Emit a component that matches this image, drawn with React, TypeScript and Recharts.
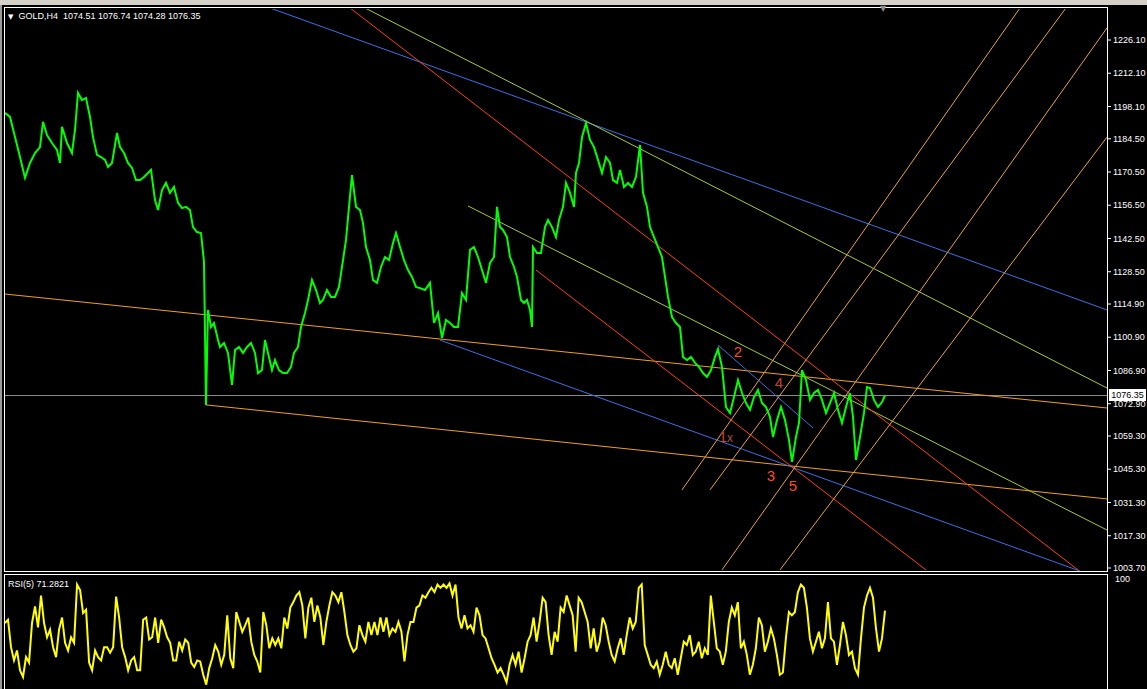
import { ComposedChart, LineChart, Line, XAxis, YAxis, ReferenceLine, ReferenceDot } from "recharts";

// price axis labels as shown by the terminal
const priceTicks = [1226.1, 1212.1, 1198.1, 1184.5, 1170.5, 1156.5, 1142.5, 1128.5, 1114.9, 1100.9, 1086.9, 1072.9, 1059.3, 1045.3, 1031.3, 1017.3, 1003.7];
const rsiTicks = [0, 100];

// bar number (H4) and price
const priceBar = [
  0, 2.5, 5, 7.5, 10, 12.5, 15, 17.5, 19, 21, 23.5, 26, 27.5, 28.5, 31, 33.5, 35, 36.5, 38.5, 40.5,
  42.5, 44, 46, 48, 50, 51.5, 53.5, 56, 57.5, 59.5, 61.5, 63.5, 65.5, 67.5, 69.5, 71.5, 73, 75, 76.5, 78.5,
  80.5, 82.5, 84.5, 86.5, 88.5, 90.5, 92.5, 94, 96, 98, 99.5, 100.5, 101.5, 103, 104.5, 106.5, 107.5, 109.5, 111.5, 113.5,
  115, 117, 119, 121, 123, 125, 126.5, 128.5, 130, 131.5, 133.5, 135, 137, 139, 141, 143, 144.5, 146.5, 148, 150,
  151.5, 153.5, 155.5, 157.5, 159, 161, 163, 165, 167, 168.5, 170.5, 172, 173.5, 175.5, 177.5, 179, 180.5, 182.5, 184, 186,
  188, 190, 192, 194, 195.5, 197.5, 199.5, 201.5, 203.5, 205.5, 207.5, 210, 212.5, 214.5, 216.5, 218.5, 220.5, 222.5, 224.5, 226.5,
  228.5, 230.5, 232.5, 234.5, 236.5, 238.5, 240.5, 242.5, 244.5, 246, 247.5, 249, 251, 252.5, 254.5, 256, 258, 259.5, 261, 262.5,
  263.5, 264, 266, 268, 270, 271.5, 273.5, 275.5, 277, 279, 280.5, 282.5, 284.5, 285.5, 287, 288.5, 290.5, 292.5, 294.5, 296.5,
  298.5, 300.5, 302.5, 304, 306, 307.5, 309.5, 311.5, 313.5, 315.5, 317.5, 319, 321, 322.5, 324.5, 326.5, 328.5, 330, 331.5, 333.5,
  335.5, 337.5, 339, 341, 343, 345, 347, 349, 351, 353, 355, 356.5, 358.5, 360.5, 362.5, 364.5, 366.5, 368.5, 370.5, 372.5,
  374.5, 376.5, 378.5, 380.5, 382.5, 384, 386, 388, 390, 392, 393.5, 395.5, 397, 398.5, 400.5, 402.5, 404.5, 406.5, 408.5, 410.5,
  412.5, 414.5, 416.5, 418.5, 420.5, 422.5, 424, 425.5, 427.5, 429.5, 431, 432.5, 434.5, 436.5, 438.5, 440,
];
const priceClose = [
  1195.4, 1193.7, 1185.2, 1176.8, 1168.0, 1174.3, 1178.5, 1181.0, 1191.6, 1186.1, 1182.7, 1179.8, 1174.3, 1189.5, 1182.7, 1178.5, 1188.2, 1203.8, 1200.8, 1201.7,
  1193.7, 1185.2, 1177.7, 1176.8, 1175.6, 1172.6, 1174.3, 1186.9, 1181.0, 1178.5, 1174.3, 1172.2, 1167.1, 1167.1, 1168.4, 1170.1, 1171.4, 1158.7, 1154.5, 1162.9,
  1165.9, 1161.7, 1164.2, 1157.5, 1155.3, 1155.8, 1154.5, 1147.3, 1145.2, 1144.8, 1132.6, 1072.4, 1112.4, 1105.2, 1106.9, 1099.7, 1096.8, 1098.5, 1094.3, 1080.8,
  1095.5, 1096.8, 1094.3, 1096.8, 1098.5, 1094.3, 1085.8, 1087.1, 1099.7, 1094.3, 1087.1, 1091.3, 1087.1, 1085.8, 1085.8, 1088.4, 1094.3, 1096.8, 1105.2, 1111.1,
  1116.6, 1125.0, 1120.8, 1115.3, 1116.6, 1120.8, 1117.9, 1117.9, 1122.1, 1130.5, 1141.9, 1155.8, 1169.2, 1155.8, 1154.5, 1149.0, 1138.9, 1133.4, 1125.0, 1123.8,
  1130.5, 1134.7, 1133.4, 1140.6, 1144.8, 1138.9, 1133.4, 1129.2, 1126.3, 1122.1, 1121.6, 1120.8, 1123.8, 1106.9, 1111.1, 1100.6, 1108.2, 1106.9, 1105.2, 1105.2,
  1119.5, 1116.6, 1137.7, 1138.9, 1134.7, 1129.2, 1123.8, 1132.2, 1134.7, 1155.8, 1147.3, 1146.1, 1143.1, 1134.7, 1130.5, 1126.3, 1116.6, 1115.3, 1116.6, 1112.4,
  1105.2, 1138.9, 1136.4, 1136.4, 1147.3, 1150.3, 1147.3, 1143.1, 1150.3, 1155.8, 1165.9, 1161.7, 1155.8, 1170.1, 1174.3, 1185.2, 1191.1, 1184.0, 1181.0, 1175.6,
  1170.1, 1176.8, 1174.3, 1167.1, 1165.9, 1171.4, 1164.2, 1165.9, 1164.2, 1168.4, 1181.9, 1161.7, 1155.8, 1147.3, 1143.1, 1138.9, 1134.7, 1126.3, 1117.9, 1109.4,
  1106.9, 1105.2, 1092.6, 1091.3, 1092.6, 1090.1, 1088.4, 1085.8, 1084.2, 1087.1, 1092.6, 1095.9, 1088.4, 1071.5, 1069.0, 1075.7, 1082.9, 1077.4, 1073.2, 1070.3,
  1075.7, 1078.7, 1073.2, 1071.5, 1067.3, 1058.9, 1066.0, 1071.5, 1066.0, 1057.6, 1048.4, 1058.9, 1064.8, 1087.1, 1082.9, 1074.5, 1077.4, 1078.7, 1074.5, 1069.0,
  1073.2, 1077.4, 1070.3, 1064.8, 1071.5, 1077.4, 1067.3, 1049.2, 1058.9, 1069.0, 1079.9, 1079.5, 1074.5, 1071.5, 1073.6, 1076.35,
];

// RSI(5), sampled evenly from the first to the last bar
const rsiValues = [
  60, 63, 38, 26, 35, 17, 11, 29, 24, 60, 75, 56, 85, 60, 47, 54, 38, 29, 54, 65,
  42, 35, 47, 42, 95, 90, 69, 72, 24, 17, 35, 29, 26, 38, 38, 33, 38,
  84, 65, 38, 29, 17, 26, 29, 17, 17, 63, 65, 45, 47, 65, 42, 63, 56, 47, 42, 26, 26, 43, 35, 45, 42, 24, 20, 26,
  25, 13, 4, 19, 28, 40, 34, 22, 31, 67, 28, 19, 70, 61, 52, 58, 65, 43, 31, 25,
  15, 70, 58, 37, 46, 40, 46, 37, 65, 55, 74, 79, 85, 88, 76, 46, 74, 83, 61, 76,
  65, 40, 61, 76, 88, 85, 79, 88, 70, 49, 40, 34, 37, 58, 49, 43, 61, 49, 61, 49,
  65, 52, 65, 49, 55, 52, 61, 52, 25, 49, 61, 61, 74, 76, 85, 83, 88, 92, 88, 95,
  92, 95, 92, 96, 85, 95, 65, 55, 67, 55, 58, 52, 74, 67, 49, 46, 37, 28, 22, 15,
  19, 13, 6, 22, 31, 22, 34, 15, 28, 43, 49, 65, 43,
  61, 83, 79, 49, 31, 52, 43, 74, 70, 85, 76, 67, 34, 83, 79, 70, 61, 37, 55, 34,
  43, 65, 58, 43, 31, 25, 37, 46, 31, 49, 65, 55, 61, 92, 95, 40, 31, 22, 19, 25,
  13, 22, 34, 22, 19, 28, 13, 28, 43, 40, 49, 31, 34, 43, 28, 37, 31, 85, 61, 37,
  34, 22, 34, 61, 74, 67, 79, 37, 43, 31, 13, 22, 37, 65, 58, 34, 43, 55, 46, 31,
  13, 15, 46, 70, 67, 70, 88, 95, 92, 74, 46, 34, 43, 52, 37, 46, 79, 46, 43, 22,
  40, 61, 49, 31, 34, 19, 13, 46, 74, 85, 92, 83, 55, 34, 46, 71.2821,
];

const lastBar = 440;
const barsShown = 551;
const lastPrice = 1076.35;

// trend lines: [bar1, price1, bar2, price2]
type Seg = [number, number, number, number];
const blueLines: Seg[] = [
  [132.5, 1239.6, 551, 1112.4],
  [217.5, 1099.7, 537.5, 1002.4],
  [356.5, 1097.6, 404, 1062.7],
];
const greenLines: Seg[] = [
  [180, 1239.6, 551, 1079.5],
  [231.5, 1156.2, 551, 1019.7],
];
const redLines: Seg[] = [
  [172.5, 1239.6, 536.5, 1002.9],
  [265.5, 1129.2, 460.5, 1002.9],
];
const orangeLines: Seg[] = [
  [0, 1119.1, 551, 1071.1],
  [100.5, 1072.4, 551, 1032.8],
];
const fanLines: Seg[] = [
  [338.5, 1036.6, 507.5, 1239.6],
  [352.5, 1036.6, 530.5, 1239.6],
  [358.5, 1002.9, 551, 1231.2],
  [387.5, 1002.9, 551, 1185.2],
];

// wave count marks
const waveText = ["2", "4", "1", "x", "3", "5"];
const waveBar = [366.5, 387, 359, 362.5, 383, 394];
const wavePrice = [1094.7, 1081.6, 1058.9, 1058.5, 1042.4, 1038.2];
const waveColor = ["#ff4a1c", "#c2462a", "#c2462a", "#a8503a", "#ff4a1c", "#ff4a1c"];
const waveSize = [15, 15, 15, 12, 15, 15];

const font = "'Liberation Sans', Arial, sans-serif";

const priceData = priceBar.map((bar, i) => ({ bar, close: priceClose[i] }));
const rsiData = rsiValues.map((rsi, i) => ({ bar: (i * lastBar) / (rsiValues.length - 1), rsi }));

function segs(list: Seg[], color: string, key: string) {
  return list.map((s, i) => (
    <ReferenceLine
      key={key + i}
      segment={[{ x: s[0], y: s[1] }, { x: s[2], y: s[3] }]}
      stroke={color}
      strokeWidth={1}
      ifOverflow="hidden"
    />
  ));
}

export default function App() {
  return (
    <div style={{ position: "absolute", left: 0, top: 0, width: 1147, height: 689, background: "#000", overflow: "hidden", fontFamily: font }}>
      <div style={{ position: "absolute", left: 0, top: 0, width: 1147, height: 5, background: "#d4d0c8" }} />
      <div style={{ position: "absolute", left: 0, top: 5, width: 2, height: 684, background: "#9a9a9a" }} />

      <div style={{ position: "absolute", left: 0, top: 0 }}>
        <ComposedChart width={1147} height={575} data={priceData} margin={{ top: 9, right: 0, bottom: 4, left: 5 }}>
          <XAxis type="number" dataKey="bar" domain={[0, barsShown]} hide allowDataOverflow />
          <YAxis
            orientation="right"
            width={40}
            domain={[1002.44, 1239.16]}
            allowDataOverflow
            ticks={priceTicks}
            interval={0}
            tickFormatter={(v: number) => v.toFixed(2)}
            tick={{ fill: "#fff", fontSize: 9, fontFamily: font }}
            tickLine={{ stroke: "#fff" }}
            tickSize={4}
            axisLine={false}
          />
          <ReferenceLine y={lastPrice} stroke="#8c8c8c" strokeWidth={1} />
          {segs(orangeLines, "#f0a020", "o")}
          {segs(blueLines, "#3f6fe6", "b")}
          {segs(greenLines, "#a4cc34", "g")}
          {segs(redLines, "#ff4010", "r")}
          {segs(fanLines, "#e8a534", "f")}
          <Line type="linear" dataKey="close" stroke="#00ff00" strokeWidth={2} dot={false} isAnimationActive={false} />
          {waveText.map((t, i) => (
            <ReferenceDot
              key={"w" + i}
              x={waveBar[i]}
              y={wavePrice[i]}
              r={1}
              fill="none"
              stroke="none"
              label={{ value: t, position: "center", fill: waveColor[i], fontSize: waveSize[i], fontFamily: font }}
            />
          ))}
        </ComposedChart>
      </div>

      <div style={{ position: "absolute", left: 0, top: 573 }}>
        <LineChart width={1147} height={116} data={rsiData} margin={{ top: 6, right: 0, bottom: 0, left: 5 }}>
          <XAxis type="number" dataKey="bar" domain={[0, barsShown]} hide allowDataOverflow />
          <YAxis
            orientation="right"
            width={40}
            domain={[0, 100]}
            ticks={rsiTicks}
            tick={{ fill: "#fff", fontSize: 9, fontFamily: font }}
            tickLine={false}
            axisLine={false}
          />
          <Line type="linear" dataKey="rsi" stroke="#ffff00" strokeWidth={2} dot={false} isAnimationActive={false} />
        </LineChart>
      </div>

      <div style={{ position: "absolute", left: 4, top: 7, width: 1104, height: 565, border: "1px solid #fff", boxSizing: "border-box", pointerEvents: "none" }} />
      <div style={{ position: "absolute", left: 4, top: 574, width: 1104, height: 130, border: "1px solid #fff", boxSizing: "border-box", pointerEvents: "none" }} />

      <div style={{ position: "absolute", left: 8, top: 10, color: "#fff", fontSize: 9, lineHeight: "12px", whiteSpace: "pre" }}>
        <span style={{ fontSize: 7, fontFamily: "'DejaVu Sans'" }}>▼</span>
        {"  GOLD,H4  1074.51 1076.74 1074.28 1076.35"}
      </div>
      <div style={{ position: "absolute", left: 8, top: 578, color: "#fff", fontSize: 9, lineHeight: "12px", whiteSpace: "pre" }}>
        RSI(5) 71.2821
      </div>
      <div style={{ position: "absolute", left: 880, top: 5, color: "#8c8c8c", fontSize: 8, lineHeight: "8px", fontFamily: "'DejaVu Sans'" }}>▼</div>
      <div style={{ position: "absolute", left: 1109, top: 389, width: 37, height: 12, background: "#fff", color: "#000", fontSize: 9, lineHeight: "12px", textAlign: "center" }}>
        1076.35
      </div>
    </div>
  );
}
